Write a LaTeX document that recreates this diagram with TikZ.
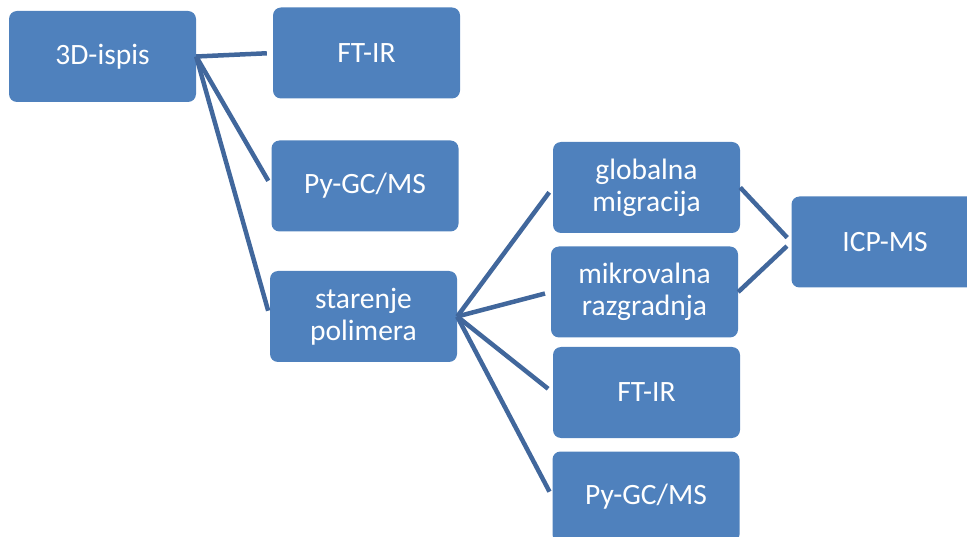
\documentclass[tikz,border=0pt]{standalone}
\usepackage{fontspec}
\setmainfont{Carlito}
\definecolor{boxblue}{HTML}{4F81BD}
\definecolor{linkblue}{HTML}{41679C}
\tikzset{
  box/.style={fill=boxblue,rounded corners=8pt,minimum width=187pt,minimum height=91pt,
    inner sep=0pt,align=center,text=white,font=\fontsize{29.5}{32}\selectfont},
  link/.style={draw=linkblue,line width=4.5pt,shorten >=6pt}
}
\begin{document}
\begin{tikzpicture}[x=1pt,y=-1pt]
      \useasboundingbox (0,0) rectangle (967,537);
      \node[box] (ispis) at (102.5,56.5) {3D-ispis};
      \node[box] (ftirA) at (366.5,53) {FT-IR};
      \node[box] (pygcA) at (365,186) {Py-GC/MS};
      \node[box] (starenje) at (363.5,316.5) {starenje\\polimera};
      \node[box] (globalna) at (646.5,187.5) {globalna\\migracija};
      \node[box] (mikro) at (644.5,292) {mikrovalna\\razgradnja};
      \node[box] (ftirB) at (646.5,392.5) {FT-IR};
      \node[box] (pygcB) at (646,497) {Py-GC/MS};
      \node[box] (icp) at (885,242) {ICP-MS};
      \draw[link] (ispis.east) -- (ftirA.west);
      \draw[link] (ispis.east) -- (pygcA.west);
      \draw[link] (ispis.east) -- (starenje.west);
      \draw[link] (starenje.east) -- (globalna.west);
      \draw[link] (starenje.east) -- (mikro.west);
      \draw[link] (starenje.east) -- (ftirB.west);
      \draw[link] (starenje.east) -- (pygcB.west);
      \draw[link] (globalna.east) -- (icp.west);
      \draw[link] (mikro.east) -- (icp.west);
    \end{tikzpicture}
\end{document}
